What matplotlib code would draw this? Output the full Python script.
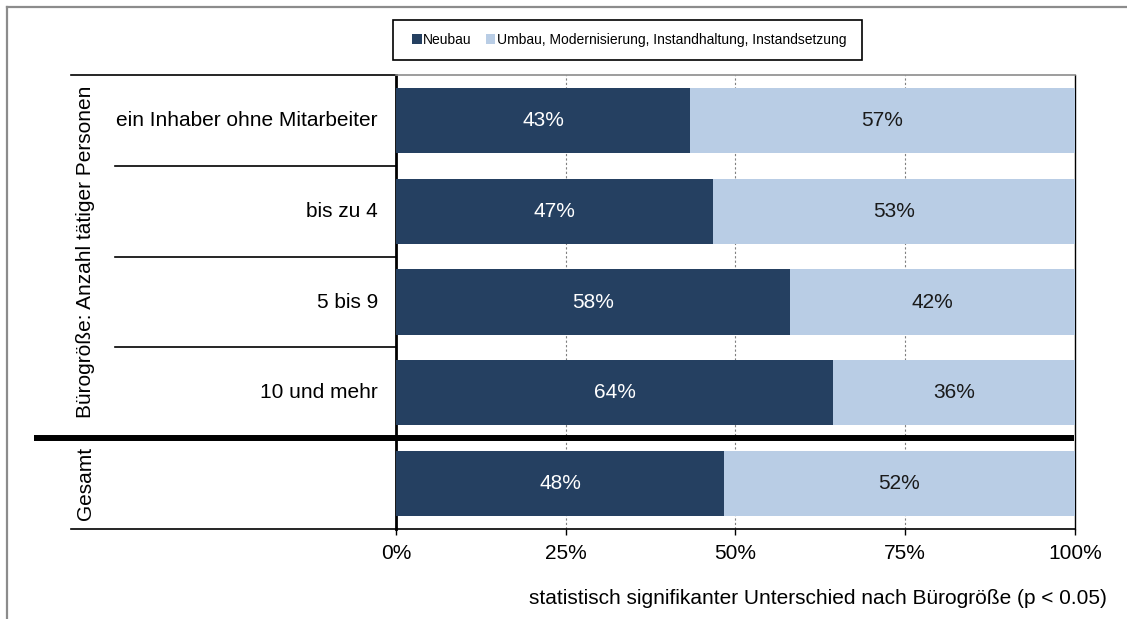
import matplotlib
matplotlib.use("Agg")
import matplotlib.pyplot as plt
from matplotlib.lines import Line2D
from matplotlib.patches import Patch, Rectangle
import matplotlib.transforms as mtrans

plt.rcParams['font.family'] = ['Liberation Sans', 'DejaVu Sans']

# ---- data ----
categories = ["ein Inhaber ohne Mitarbeiter", "bis zu 4", "5 bis 9", "10 und mehr", ""]
neubau = [43.3, 46.7, 58.0, 64.4, 48.3]
umbau = [56.7, 53.3, 42.0, 35.6, 51.7]
neubau_labels = ["43%", "47%", "58%", "64%", "48%"]
umbau_labels = ["57%", "53%", "42%", "36%", "52%"]
series_names = ["Neubau", "Umbau, Modernisierung, Instandhaltung, Instandsetzung"]
xticks = [0, 25, 50, 75, 100]
xticklabels = ["0%", "25%", "50%", "75%", "100%"]
group_labels = ["Bürogröße: Anzahl tätiger Personen", "Gesamt"]
note = "statistisch signifikanter Unterschied nach Bürogröße (p < 0.05)"

dark = "#254061"
light = "#B9CDE5"

W, H = 1127, 619
fig = plt.figure(figsize=(W / 100, H / 100), dpi=100)
fig.patch.set_facecolor("white")


def fx(px):
    return px / W


def fy(py):
    return 1 - py / H


ax = fig.add_axes([fx(396), fy(529), fx(1075) - fx(396), fy(75) - fy(529)])

ypos = list(range(len(categories)))
ax.barh(ypos, neubau, height=0.72, color=dark, zorder=3)
ax.barh(ypos, umbau, left=neubau, height=0.72, color=light, zorder=3)

for y, n, u, nl, ul in zip(ypos, neubau, umbau, neubau_labels, umbau_labels):
    ax.text(n / 2, y, nl, ha="center", va="center", color="white", fontsize=15, zorder=4)
    ax.text(n + u / 2, y, ul, ha="center", va="center", color="#1a1a1a", fontsize=15, zorder=4)

ax.set_xlim(0, 100)
ax.set_ylim(len(categories) - 0.5, -0.5)
ax.set_xticks(xticks)
ax.set_xticklabels(xticklabels, fontsize=15)
ax.set_yticks([])
ax.tick_params(axis="x", direction="out", length=4, width=1, color="black", pad=7)

for t in xticks[1:-1]:
    ax.axvline(t, color="#7f7f7f", lw=0.8, linestyle=(0, (2, 2)), zorder=1)

ax.spines["top"].set_color("#8c8c8c")
ax.spines["top"].set_linewidth(1.2)
ax.spines["right"].set_color("black")
ax.spines["right"].set_linewidth(1.0)
ax.spines["left"].set_color("black")
ax.spines["left"].set_linewidth(2.0)
ax.spines["bottom"].set_color("black")
ax.spines["bottom"].set_linewidth(1.2)

# blended transform: x in figure fraction, y in data
bt = mtrans.blended_transform_factory(fig.transFigure, ax.transData)

# category labels
for y, c in zip(ypos, categories):
    if c:
        ax.text(fx(378), y, c, transform=bt, ha="right", va="center", fontsize=15, color="black")

# row separator lines in label area
for b in [0.5, 1.5, 2.5]:
    ax.add_line(Line2D([fx(115), fx(396)], [b, b], transform=bt, color="black", lw=1.2, clip_on=False))
for b in [-0.5, len(categories) - 0.5]:
    ax.add_line(Line2D([fx(71), fx(396)], [b, b], transform=bt, color="black", lw=1.2, clip_on=False))

# thick separator between groups and total
ax.add_line(Line2D([fx(34), fx(1074)], [3.5, 3.5], transform=bt, color="black", lw=4.3,
                   clip_on=False, zorder=5, solid_capstyle="butt"))

# group labels
ax.text(fx(86), 1.45, group_labels[0], transform=bt, rotation=90, ha="center", va="center", fontsize=15)
ax.text(fx(86), 4.0, group_labels[1], transform=bt, rotation=90, ha="center", va="center", fontsize=15)

# legend (frameless) + manual box
handles = [Patch(facecolor=dark, edgecolor="none"), Patch(facecolor=light, edgecolor="none")]
leg = fig.legend(handles, series_names, loc="center", bbox_to_anchor=(fx(629), fy(40)),
                 ncol=2, fontsize=10, frameon=False,
                 handlelength=0.7, handleheight=0.7, handletextpad=0.1, columnspacing=1.0,
                 borderpad=0.2, borderaxespad=0)
fig.add_artist(Rectangle((fx(393), fy(60)), fx(862) - fx(393), fy(20) - fy(60),
                         transform=fig.transFigure, facecolor="none", edgecolor="black", lw=1.2))

# note
fig.text(fx(1107), fy(598), note, ha="right", va="center", fontsize=15)

# outer frame (top and left visible)
fig.add_artist(Line2D([fx(7), fx(7)], [fy(7), 0], color="#8c8c8c", lw=1.6))
fig.add_artist(Line2D([fx(7), 1], [fy(7), fy(7)], color="#8c8c8c", lw=1.6))

fig.savefig("out.png", dpi=100)
